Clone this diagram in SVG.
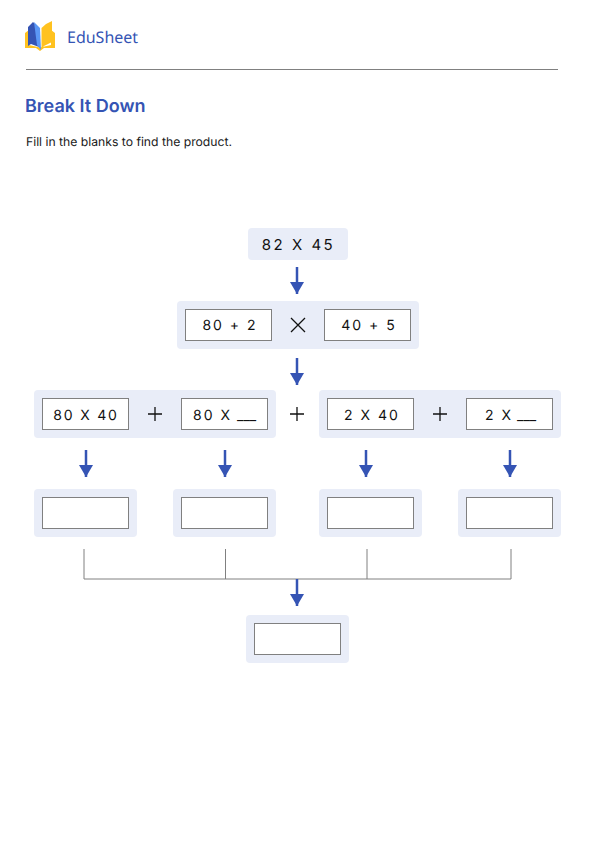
<svg xmlns="http://www.w3.org/2000/svg" width="595" height="842" viewBox="0 0 595 842" text-rendering="geometricPrecision">
<style>
.panel{fill:#e9edf8}
.box{fill:#fff;stroke:#808080;stroke-width:1}
.math{font-family:Inter,"Liberation Sans",sans-serif;font-size:14px;fill:#111;text-anchor:middle;letter-spacing:2px}
.start{text-anchor:start}
.blank{letter-spacing:0;font-size:14px}
.op{fill:none;stroke:#111;stroke-width:1.300}
.arrow{fill:none;stroke:#3554b4;stroke-width:2.500;marker-end:url(#ah)}
.br{fill:none;stroke:#808080;stroke-width:1}
</style>
<defs>
<marker id="ah" markerUnits="userSpaceOnUse" markerWidth="12" markerHeight="14" refX="12" refY="7" orient="auto" viewBox="0 0 12 14"><path d="M0 0 L12 7 L0 14 Z" fill="#3554b4"/></marker>
</defs>
<rect width="595" height="842" fill="#fff"/>
<g id="logo">
<path d="M25 33 L29 30 L29 45 L40 47.500 L51 45 L51 30 L55 33 L55 48 L44 48 L40 51 L36 48 L25 48 Z" fill="#ffc21f"/>
<path d="M28 27 L33 22 L37 26 L39 47 L31 44 L28 46 Z" fill="#3554b4"/>
<path d="M34 22 L40 28 L41 50 L37 45 Z" fill="#5b97f5"/>
<path d="M41.500 28 L46 24 L52 21 L52 42 L44 46 L41.500 49 Z" fill="#ffc21f"/>
<text x="67" y="42.500" font-family="'Noto Sans',sans-serif" font-size="16" fill="#3554b4">EduSheet</text>
</g>
<line x1="26" y1="69.500" x2="558" y2="69.500" stroke="#808080" stroke-width="1"/>
<text id="title" x="25" y="112" font-family="Inter,sans-serif" font-weight="600" font-size="18" fill="#3554b4">Break It Down</text>
<text id="subtitle" x="26" y="146" font-family="Inter,sans-serif" font-size="12.200" fill="#1a1a1a">Fill in the blanks to find the product.</text>
<g id="connectors">
<line class="arrow" x1="297" y1="267" x2="297" y2="294"/>
<line class="arrow" x1="297" y1="358" x2="297" y2="385"/>
<line class="arrow" x1="86" y1="450" x2="86" y2="477"/>
<line class="arrow" x1="225" y1="450" x2="225" y2="477"/>
<line class="arrow" x1="366" y1="450" x2="366" y2="477"/>
<line class="arrow" x1="510" y1="450" x2="510" y2="477"/>
<path class="br" d="M84 549 V579 H511 V549 M225.500 549 V579 M367 549 V579"/>
<line class="arrow" x1="297" y1="579" x2="297" y2="606"/>
</g>
<g id="node-top"><rect class="panel" x="248" y="228" width="100" height="32" rx="4"/><text class="math" x="298.500" y="250" style="font-size:15px;letter-spacing:2.500px">82 X 45</text></g>
<g id="node-factors">
<rect class="panel" x="177" y="301" width="242" height="48" rx="4"/>
<rect class="box" x="185.500" y="309.500" width="86" height="31"/><text class="math" x="230" y="330">80 + 2</text>
<path class="op" d="M291 318 L305 332 M305 318 L291 332"/>
<rect class="box" x="324.500" y="309.500" width="86" height="31"/><text class="math" x="369" y="330">40 + 5</text>
</g>
<g id="node-left">
<rect class="panel" x="34" y="390" width="242" height="48" rx="4"/>
<rect class="box" x="42.500" y="398.500" width="86" height="31"/><text class="math" x="86" y="420" style="letter-spacing:1.800px">80 X 40</text>
<path class="op" d="M155 407 V421 M148 414 H162"/>
<rect class="box" x="181.500" y="398.500" width="86" height="31"/><text class="math start" x="193" y="420">80 X<tspan class="blank" x="237">___</tspan></text>
</g>
<g id="plus-mid"><path class="op" d="M297 407 V421 M290 414 H304"/></g>
<g id="node-right">
<rect class="panel" x="319" y="390" width="242" height="48" rx="4"/>
<rect class="box" x="327.500" y="398.500" width="86" height="31"/><text class="math" x="372" y="420">2 X 40</text>
<path class="op" d="M440 407 V421 M433 414 H447"/>
<rect class="box" x="466.500" y="398.500" width="86" height="31"/><text class="math start" x="485" y="420">2 X<tspan class="blank" x="517">___</tspan></text>
</g>
<g id="answer-1"><rect class="panel" x="34" y="489" width="103" height="48" rx="4"/><rect class="box" x="42.500" y="497.500" width="86" height="31"/></g>
<g id="answer-2"><rect class="panel" x="173" y="489" width="103" height="48" rx="4"/><rect class="box" x="181.500" y="497.500" width="86" height="31"/></g>
<g id="answer-3"><rect class="panel" x="319" y="489" width="103" height="48" rx="4"/><rect class="box" x="327.500" y="497.500" width="86" height="31"/></g>
<g id="answer-4"><rect class="panel" x="458" y="489" width="103" height="48" rx="4"/><rect class="box" x="466.500" y="497.500" width="86" height="31"/></g>
<g id="answer-final"><rect class="panel" x="246" y="615" width="103" height="48" rx="4"/><rect class="box" x="254.500" y="623.500" width="86" height="31"/></g>
</svg>
